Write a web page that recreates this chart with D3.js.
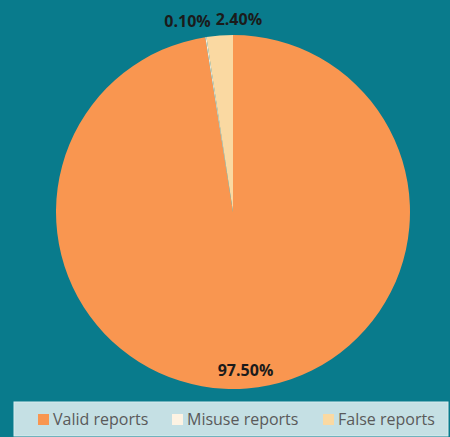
<!DOCTYPE html>
<html>
<head>
<meta charset="utf-8">
<script src="https://cdn.jsdelivr.net/npm/d3@7"></script>
<style>
  html, body { margin: 0; padding: 0; background: #097b8c; }
  svg { display: block; }
</style>
</head>
<body>
<div id="chart"></div>
<script>
const categories = ["Valid reports", "Misuse reports", "False reports"];
const values = [97.5, 0.1, 2.4];
const labels = ["97.50%", "0.10%", "2.40%"];
const colors = ["#f99650", "#fdf3e3", "#fad9a2"];

const W = 450, H = 437;
const CX = 233, CY = 212, R = 177;

const svg = d3.select("#chart").append("svg")
  .attr("width", W).attr("height", H);

svg.append("rect")
  .attr("width", W).attr("height", H)
  .attr("fill", "#097b8c");

const data = categories.map((c, i) => ({ name: c, value: values[i], label: labels[i], color: colors[i] }));

const pie = d3.pie().sort(null).value(d => d.value);
const arcs = pie(data);
const arc = d3.arc().innerRadius(0).outerRadius(R);

const g = svg.append("g").attr("transform", `translate(${CX},${CY})`);

g.selectAll("path.slice")
  .data(arcs)
  .join("path")
  .attr("class", "slice")
  .attr("d", arc)
  .attr("fill", d => d.data.color);

// Data labels
const outerLabel = d3.arc().innerRadius(R + 14).outerRadius(R + 14);
const innerLabel = d3.arc().innerRadius(R * 0.9).outerRadius(R * 0.9);
const labelOpts = [
  { arc: innerLabel, anchor: "middle", dx: 0, dy: 5 },
  { arc: outerLabel, anchor: "end", dx: 7, dy: 4 },
  { arc: outerLabel, anchor: "start", dx: -3, dy: 3 }
];

g.selectAll("text.lbl")
  .data(arcs)
  .join("text")
  .attr("class", "lbl")
  .attr("x", (d, i) => labelOpts[i].arc.centroid(d)[0] + labelOpts[i].dx)
  .attr("y", (d, i) => labelOpts[i].arc.centroid(d)[1] + labelOpts[i].dy)
  .attr("text-anchor", (d, i) => labelOpts[i].anchor)
  .attr("font-family", "'Open Sans', sans-serif")
  .attr("font-weight", "700")
  .attr("font-size", 16)
  .attr("fill", "#1b1b1b")
  .text(d => d.data.label);

// Legend
const legend = svg.append("g");
legend.append("rect")
  .attr("x", 14).attr("y", 402)
  .attr("width", 434).attr("height", 34)
  .attr("fill", "#c5e0e4")
  .attr("stroke", "#d8ecee").attr("stroke-width", 1);

const legendX = [38, 172, 323];
const item = legend.selectAll("g.item")
  .data(data)
  .join("g")
  .attr("class", "item")
  .attr("transform", (d, i) => `translate(${legendX[i]},414)`);

item.append("rect")
  .attr("width", 11).attr("height", 11)
  .attr("fill", d => d.color);

item.append("text")
  .attr("x", 15).attr("y", 10.5)
  .attr("font-family", "'Open Sans', sans-serif")
  .attr("font-size", 16)
  .attr("fill", "#5a5a5a")
  .text(d => d.name);
</script>
</body>
</html>
